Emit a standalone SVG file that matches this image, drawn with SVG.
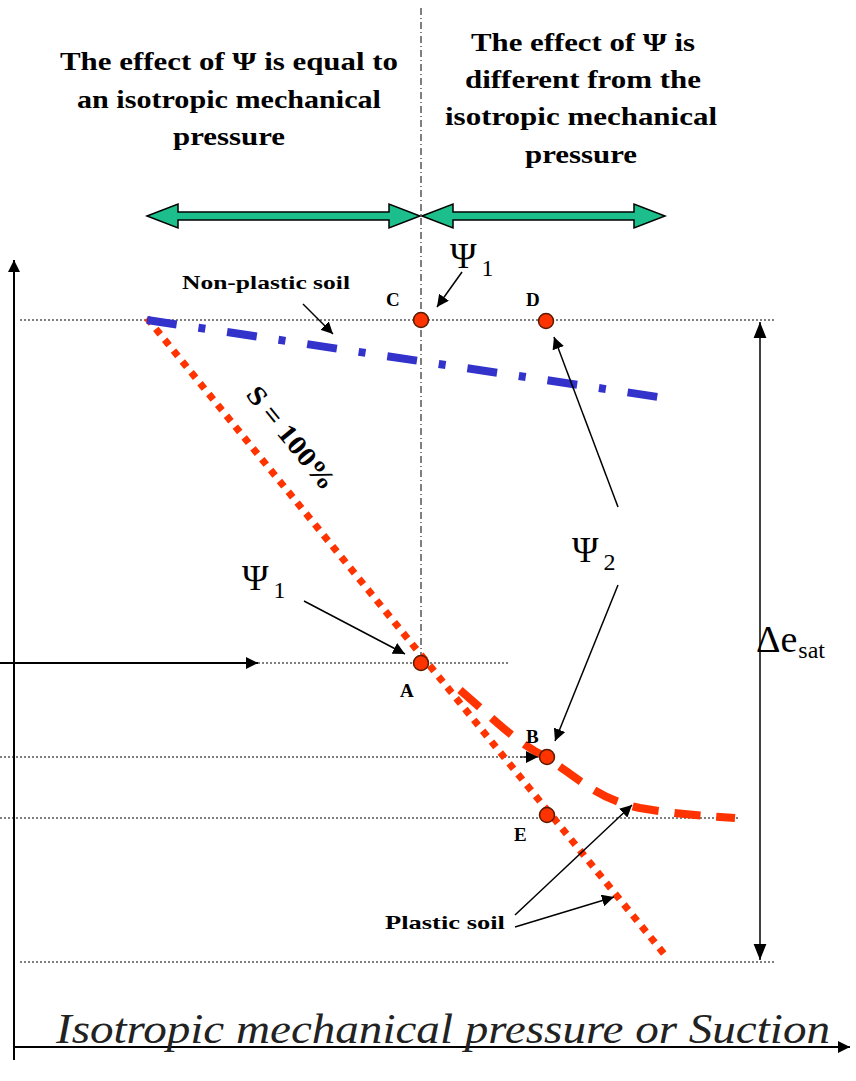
<svg xmlns="http://www.w3.org/2000/svg" width="856" height="1081" viewBox="0 0 856 1081">
<defs>
<marker id="ahb" viewBox="0 0 10 10" refX="10" refY="5" markerWidth="12" markerHeight="12" markerUnits="userSpaceOnUse" orient="auto"><path d="M0,0 L10,5 L0,10 z" fill="#000"/></marker>
<marker id="ahs" viewBox="0 0 10 10" refX="10" refY="5" markerWidth="16" markerHeight="16" markerUnits="userSpaceOnUse" orient="auto-start-reverse"><path d="M0,1 L10,5 L0,9 z" fill="#000"/></marker>
</defs>
<style>
text{font-family:"Liberation Serif","Times New Roman",Times,serif}
.hd{font-weight:bold;font-size:25px;text-anchor:middle;fill:#000}
.lb{font-weight:bold;font-size:19px;fill:#000}
.psi{font-size:36px;fill:#000}
.sub{font-size:24px}
.dot{stroke:#000;stroke-width:1;stroke-dasharray:2,2;fill:none}
.thin{stroke:#000;stroke-width:1.5;fill:none}
.pt{fill:#FF3300;stroke:#5a1a00;stroke-width:1.5}
.grn{fill:#1CBF8C;stroke:#000;stroke-width:1.5}
</style>

<g id="headings">
<text class="hd" x="229" y="70" textLength="338" lengthAdjust="spacingAndGlyphs">The effect of Ψ is equal to</text>
<text class="hd" x="229" y="108" textLength="304" lengthAdjust="spacingAndGlyphs">an isotropic mechanical</text>
<text class="hd" x="229" y="145" textLength="112" lengthAdjust="spacingAndGlyphs">pressure</text>
<text class="hd" x="583" y="51" textLength="224" lengthAdjust="spacingAndGlyphs">The effect of Ψ is</text>
<text class="hd" x="583" y="88" textLength="236" lengthAdjust="spacingAndGlyphs">different from the</text>
<text class="hd" x="581" y="125" textLength="272" lengthAdjust="spacingAndGlyphs">isotropic mechanical</text>
<text class="hd" x="581" y="163" textLength="112" lengthAdjust="spacingAndGlyphs">pressure</text>
</g>

<g id="zone-arrows">
<path class="grn" d="M147,216 L178,204 L178,212 L389,212 L389,204 L420,216 L389,228 L389,220 L178,220 L178,228 z"/>
<path class="grn" d="M422,216 L453,204 L453,212 L634,212 L634,204 L665,216 L634,228 L634,220 L453,220 L453,228 z"/>
</g>

<g id="axes">
<line x1="14" y1="1060" x2="14" y2="260" stroke="#000" stroke-width="2" marker-end="url(#ahb)"/>
<line x1="14" y1="1047" x2="850" y2="1047" stroke="#000" stroke-width="2" marker-end="url(#ahb)"/>
</g>

<g id="guides">
<line x1="421" y1="8" x2="421" y2="665" stroke="#000" stroke-width="1" stroke-dasharray="7,3,1,3"/>
<line class="dot" x1="20" y1="320" x2="775" y2="320"/>
<line class="dot" x1="258" y1="663" x2="510" y2="663"/>
<line class="dot" x1="0" y1="757" x2="530" y2="757"/>
<line class="dot" x1="0" y1="818" x2="740" y2="818"/>
<line class="dot" x1="20" y1="962" x2="775" y2="962"/>
</g>

<g id="curves">
<line x1="147" y1="318" x2="665" y2="955" stroke="#FF3300" stroke-width="7" stroke-dasharray="7,7"/>
<line x1="147" y1="320" x2="665" y2="398" stroke="#3333CC" stroke-width="8" stroke-dasharray="30,22,7,22"/>
<path d="M460,690 C500,725 520,745 546,757 C580,780 600,800 640,808 C680,815 710,816 735,818" fill="none" stroke="#FF3300" stroke-width="8" stroke-dasharray="26,16"/>
</g>

<g id="connectors">
<line x1="0" y1="663" x2="258" y2="663" stroke="#000" stroke-width="2" marker-end="url(#ahb)"/>
<line x1="520" y1="757" x2="538" y2="757" stroke="#000" stroke-width="1" marker-end="url(#ahb)"/>
<line x1="760" y1="322" x2="760" y2="960" stroke="#000" stroke-width="1.5" marker-start="url(#ahs)" marker-end="url(#ahs)"/>
<line class="thin" x1="462" y1="272" x2="437" y2="307" marker-end="url(#ahb)"/>
<line class="thin" x1="304" y1="601" x2="405" y2="654" marker-end="url(#ahb)"/>
<line class="thin" x1="618" y1="507" x2="554" y2="337" marker-end="url(#ahb)"/>
<line class="thin" x1="618" y1="585" x2="555" y2="741" marker-end="url(#ahb)"/>
<line class="thin" x1="303" y1="304" x2="333" y2="334" marker-end="url(#ahb)"/>
<line class="thin" x1="515" y1="915" x2="632" y2="805" marker-end="url(#ahb)"/>
<line class="thin" x1="515" y1="927" x2="614" y2="897" marker-end="url(#ahb)"/>
</g>

<g id="point-C"><circle class="pt" cx="421" cy="320" r="7.5"/><text class="lb" x="386" y="306">C</text></g>
<g id="point-D"><circle class="pt" cx="546" cy="321" r="7.5"/><text class="lb" x="526" y="306">D</text></g>
<g id="point-A"><circle class="pt" cx="421" cy="663" r="7.5"/><text class="lb" x="400" y="697">A</text></g>
<g id="point-B"><circle class="pt" cx="547" cy="757" r="7.5"/><text class="lb" x="526" y="743">B</text></g>
<g id="point-E"><circle class="pt" cx="547" cy="815" r="7.5"/><text class="lb" x="514" y="841">E</text></g>

<g id="labels">
<text class="psi" x="450" y="268">Ψ<tspan class="sub" dx="5" dy="8">1</tspan></text>
<text class="psi" x="242" y="590">Ψ<tspan class="sub" dx="5" dy="8">1</tspan></text>
<text class="psi" x="572" y="562">Ψ<tspan class="sub" dx="5" dy="8">2</tspan></text>
<text class="lb" x="182" y="289" textLength="168" lengthAdjust="spacingAndGlyphs">Non-plastic soil</text>
<text class="lb" x="385" y="929" textLength="120" lengthAdjust="spacingAndGlyphs">Plastic soil</text>
<text font-weight="bold" font-size="27" transform="translate(245,395) rotate(51)" textLength="125" lengthAdjust="spacingAndGlyphs">S = 100%</text>
<text font-size="38" x="756" y="652">Δe<tspan font-size="24" dx="1" dy="6">sat</tspan></text>
<text font-style="italic" font-size="42" x="56" y="1043" textLength="774" lengthAdjust="spacingAndGlyphs" fill="#222">Isotropic mechanical pressure or Suction</text>
</g>
</svg>
